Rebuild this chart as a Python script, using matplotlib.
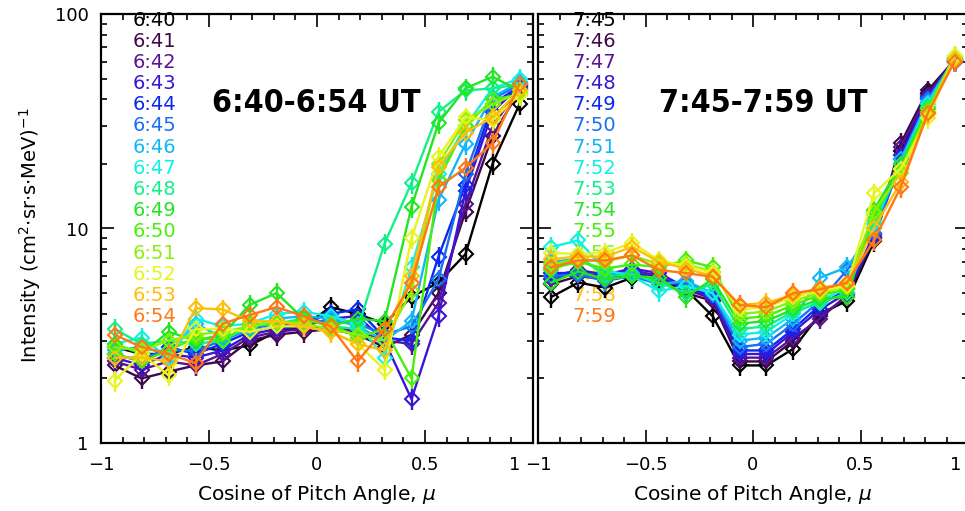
import numpy as np
import matplotlib
matplotlib.use("Agg")
import matplotlib.pyplot as plt
from matplotlib import font_manager
from matplotlib.font_manager import FontProperties
from matplotlib.ticker import MultipleLocator, LogLocator, NullFormatter, FixedLocator, FixedFormatter
from matplotlib.transforms import ScaledTranslation

# ---------------- data ----------------
mu = [-0.9375, -0.8125, -0.6875, -0.5625, -0.4375, -0.3125, -0.1875, -0.0625,
      0.0625, 0.1875, 0.3125, 0.4375, 0.5625, 0.6875, 0.8125, 0.9375]

times_a = ["6:40", "6:41", "6:42", "6:43", "6:44", "6:45", "6:46", "6:47",
           "6:48", "6:49", "6:50", "6:51", "6:52", "6:53", "6:54"]
times_b = ["7:45", "7:46", "7:47", "7:48", "7:49", "7:50", "7:51", "7:52",
           "7:53", "7:54", "7:55", "7:56", "7:57", "7:58", "7:59"]

colors = ["#000000", "#3c0a4a", "#5a1296", "#3b14d6", "#0a28f0", "#1a6ef5",
          "#12b8f5", "#12f0e6", "#12f08c", "#22e622", "#46f00a", "#8cf00a",
          "#e6f51e", "#ffbe0a", "#ff7814"]

flux_a = [
    [2.8, 2.6, 2.6, 2.8, 2.7, 2.85, 3.3, 3.5, 4.3, 4.0, 3.6, 4.8, 5.6, 7.6, 20, 38],
    [2.3, 2.0, 2.15, 2.3, 2.4, 3.0, 3.2, 3.3, 3.4, 3.2, 2.8, 3.2, 5.0, 12, 27, 44],
    [2.4, 2.2, 2.4, 2.3, 2.6, 3.1, 3.3, 3.4, 3.5, 3.3, 3.0, 2.9, 4.5, 13, 30, 45],
    [2.5, 2.3, 2.6, 2.5, 2.7, 3.2, 3.4, 3.5, 3.8, 3.9, 3.0, 1.6, 3.9, 15, 35, 46],
    [2.6, 2.4, 2.8, 2.6, 2.9, 3.3, 3.5, 3.6, 4.0, 4.2, 3.1, 3.0, 7.4, 16, 38, 46],
    [2.5, 2.5, 2.7, 2.7, 3.0, 3.4, 3.6, 3.7, 3.7, 3.6, 3.2, 3.5, 5.8, 18, 40, 47],
    [2.7, 2.8, 2.6, 3.6, 3.1, 3.4, 3.8, 3.9, 3.8, 3.5, 3.0, 3.7, 13.6, 24.8, 41, 48],
    [2.9, 3.1, 2.5, 3.8, 3.5, 3.6, 4.0, 4.1, 3.9, 3.6, 2.5, 6.6, 18, 30, 45, 50],
    [3.4, 2.9, 3.0, 2.9, 3.0, 3.5, 3.6, 3.8, 3.5, 3.4, 8.5, 16.3, 35, 44, 45, 47],
    [2.9, 2.6, 3.3, 3.0, 3.2, 4.4, 5.0, 3.8, 3.5, 3.8, 3.7, 12.6, 31, 45, 51, 44],
    [2.6, 2.4, 2.7, 3.1, 3.0, 3.6, 3.6, 3.7, 3.6, 3.1, 3.4, 2.0, 16.8, 30, 40, 42],
    [2.8, 2.7, 3.0, 3.2, 3.3, 3.5, 3.7, 3.6, 3.4, 3.2, 3.0, 5.1, 20, 32, 38, 43],
    [1.95, 2.6, 2.07, 3.4, 3.4, 3.3, 3.5, 3.5, 3.3, 2.9, 2.2, 9.0, 21.6, 33, 32, 42],
    [2.5, 2.5, 2.4, 4.25, 4.2, 3.7, 3.7, 3.5, 3.3, 2.9, 2.7, 6.0, 19.4, 28, 33, 44],
    [3.2, 2.8, 2.6, 2.36, 3.6, 3.95, 4.3, 3.9, 3.5, 2.4, 3.4, 5.6, 15.6, 19.2, 25, 47],
]

flux_b = [
    [4.8, 5.6, 5.3, 5.9, 5.7, 5.2, 3.9, 2.3, 2.3, 2.75, 4.0, 4.6, 8.7, 23, 43, 60],
    [5.5, 6.0, 5.8, 6.2, 5.9, 5.0, 4.6, 2.4, 2.4, 3.0, 3.9, 4.8, 9.0, 25, 44, 61],
    [5.8, 6.2, 6.0, 6.4, 6.0, 5.2, 4.7, 2.5, 2.5, 3.1, 3.8, 4.9, 9.2, 24, 42, 61],
    [6.0, 6.4, 6.1, 6.5, 6.2, 5.3, 4.8, 2.6, 2.6, 3.3, 4.2, 5.0, 9.4, 22, 41, 60],
    [6.2, 6.2, 5.9, 6.3, 5.8, 5.4, 4.9, 2.7, 2.7, 3.4, 4.4, 5.2, 9.0, 21, 40, 60],
    [6.0, 6.1, 5.7, 6.0, 5.5, 5.6, 4.9, 2.8, 2.9, 3.6, 4.6, 6.4, 9.5, 20, 40, 61],
    [7.0, 7.2, 6.2, 6.2, 5.5, 5.7, 5.0, 3.0, 3.1, 3.8, 5.9, 6.6, 10, 21, 39, 62],
    [8.2, 8.8, 6.4, 6.0, 5.1, 5.4, 5.0, 3.2, 3.3, 4.0, 4.6, 5.3, 10.5, 20, 38, 61],
    [6.4, 7.5, 6.0, 6.1, 5.6, 5.0, 5.5, 3.4, 3.5, 4.1, 4.5, 5.0, 11, 19, 37, 62],
    [5.6, 6.3, 5.8, 6.0, 5.9, 4.8, 5.8, 3.6, 3.7, 4.2, 4.7, 4.8, 12.2, 20, 36, 62],
    [6.5, 7.0, 6.5, 6.8, 6.6, 7.1, 6.6, 3.8, 3.9, 4.4, 4.9, 5.2, 11.5, 19, 36, 63],
    [6.8, 7.2, 7.0, 7.5, 6.8, 6.8, 6.3, 4.0, 4.1, 4.6, 5.0, 5.4, 12, 18.2, 35, 64],
    [7.7, 7.6, 7.7, 8.6, 7.1, 6.7, 6.2, 4.2, 4.3, 4.8, 5.1, 5.4, 14.6, 19, 32.6, 64],
    [7.2, 7.4, 7.4, 8.2, 7.0, 6.5, 6.0, 4.4, 4.5, 4.9, 5.3, 5.5, 10, 16.5, 34, 62],
    [6.6, 7.1, 7.1, 7.5, 6.4, 6.2, 5.95, 4.4, 4.3, 5.0, 5.2, 5.6, 8.8, 15.6, 34.5, 60],
]

rel_err = 0.11
titles = ["6:40-6:54 UT", "7:45-7:59 UT"]
xticks = [-1, -0.5, 0, 0.5, 1]
xticklabels = ["\u22121", "\u22120.5", "0", "0.5", "1"]
yticks = [1, 10, 100]
yticklabels = ["1", "10", "100"]

# ---------------- fonts ----------------
def find_condensed_bold():
    for f in font_manager.fontManager.ttflist:
        if f.name == "Liberation Sans Narrow" and f.weight in ("bold", 700) and f.style == "normal":
            return FontProperties(fname=f.fname, size=26)
    for f in font_manager.fontManager.ttflist:
        if f.name == "DejaVu Sans" and f.stretch == "condensed" and f.weight in ("bold", 700) and f.style == "normal":
            return FontProperties(fname=f.fname, size=23)
    return FontProperties(family="Liberation Sans", weight="bold", size=23)

title_fp = find_condensed_bold()

# ---------------- figure ----------------
W, H = 965, 511
fig = plt.figure(figsize=(W / 100, H / 100), dpi=100)
plt.rcParams['font.family'] = ['DejaVu Sans']

def px_axes(x0, x1, y0, y1):
    return fig.add_axes([x0 / W, 1 - y1 / H, (x1 - x0) / W, (y1 - y0) / H])

axA = px_axes(101, 533, 14, 443)
axB = px_axes(538, 968, 14, 443)

for ax, flux, times, title, legx, tx in [(axA, flux_a, times_a, titles[0], 0.074, 0.498),
                                         (axB, flux_b, times_b, titles[1], 0.079, 0.523)]:
    for i, (vals, c) in enumerate(zip(flux, colors)):
        v = np.array(vals)
        ax.errorbar(mu, v, yerr=v * rel_err, color=c, lw=1.7, elinewidth=1.7,
                    marker='D', ms=7, mfc='none', mec=c, mew=1.5,
                    capsize=0, zorder=3 + i * 0.01)
    for i, (t, c) in enumerate(zip(times, colors)):
        ax.text(legx, 0.986 - i * 0.0494, t, color=c, fontsize=14,
                ha='left', va='center', transform=ax.transAxes, zorder=1)
    ax.text(tx, 0.7925, title, transform=ax.transAxes,
            ha='center', va='center', fontproperties=title_fp, zorder=1)
    ax.set_yscale('log')
    ax.set_xlim(-1, 1)
    ax.set_ylim(1, 100)
    ax.xaxis.set_major_locator(FixedLocator(xticks))
    ax.xaxis.set_major_formatter(FixedFormatter(xticklabels))
    ax.xaxis.set_minor_locator(MultipleLocator(0.1))
    ax.yaxis.set_major_locator(FixedLocator(yticks))
    ax.yaxis.set_minor_locator(LogLocator(base=10, subs=np.arange(2, 10)))
    ax.yaxis.set_minor_formatter(NullFormatter())
    ax.tick_params(which='both', direction='in', top=True, right=True,
                   labelsize=13, width=1.2, pad=9)
    ax.tick_params(which='major', length=9.5)
    ax.tick_params(which='minor', length=4.5)
    for s in ax.spines.values():
        s.set_linewidth(1.6)
    ax.text(0.5, -0.119, r"Cosine of Pitch Angle, $\mu$", transform=ax.transAxes,
            ha='center', va='center', fontsize=14.5)

axA.yaxis.set_major_formatter(FixedFormatter(yticklabels))
axB.yaxis.set_major_formatter(NullFormatter())
# keep the "1" labels at the panel edges from colliding / being clipped
for ax, dx in [(axA, -18), (axB, -12)]:
    lb = ax.get_xticklabels()[-1]
    lb.set_transform(lb.get_transform() + ScaledTranslation(dx / 100, 0, fig.dpi_scale_trans))

fig.text(30 / W, 1 - 235 / H, r"Intensity (cm$^2$$\cdot$sr$\cdot$s$\cdot$MeV)$^{-1}$",
         rotation=90, ha='center', va='center', fontsize=14)

fig.savefig("out.png", dpi=100)
